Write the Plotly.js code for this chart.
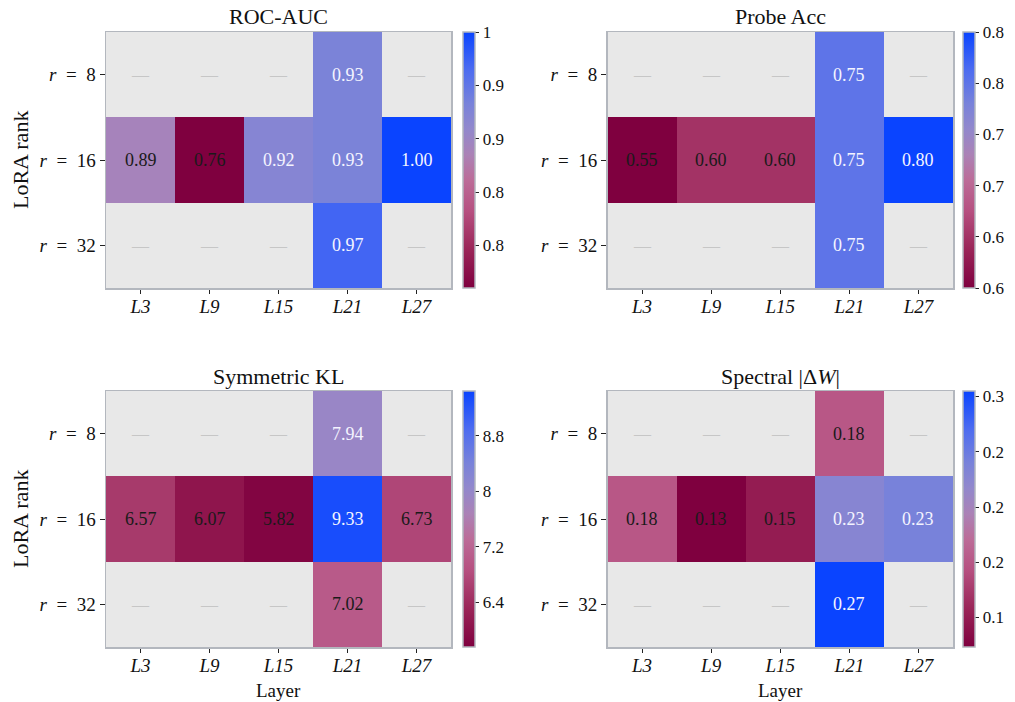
<!DOCTYPE html>
<html>
<head>
<meta charset="utf-8">
<script src="https://cdn.plot.ly/plotly-3.0.1.min.js"></script>
<style>html,body{margin:0;padding:0;background:#fff;}#chart{width:1015px;height:702px;}</style>
</head>
<body>
<div id="chart"></div>
<script>
// ---- data ----
const layers = ['L3', 'L9', 'L15', 'L21', 'L27'];
const layerLabels = ['<i>L3</i>', '<i>L9</i>', '<i>L15</i>', '<i>L21</i>', '<i>L27</i>'];
const ranks = ['r8', 'r16', 'r32'];
const rankLabels = ['<i>r</i>\u2002=\u20028', '<i>r</i>\u2002=\u200216', '<i>r</i>\u2002=\u200232'];

const rocAuc = [
  [null, null, null, 0.93, null],
  [0.89, 0.76, 0.92, 0.93, 1.00],
  [null, null, null, 0.97, null]
];
const probeAcc = [
  [null, null, null, 0.75, null],
  [0.55, 0.60, 0.60, 0.75, 0.80],
  [null, null, null, 0.75, null]
];
const symKL = [
  [null, null, null, 7.94, null],
  [6.57, 6.07, 5.82, 9.33, 6.73],
  [null, null, null, 7.02, null]
];
const spectralDW = [
  [null, null, null, 0.18, null],
  [0.18, 0.134, 0.15, 0.226, 0.234],
  [null, null, null, 0.273, null]
];

const rocTicks = [0.80, 0.85, 0.90, 0.95, 1.00];
const rocTickText = ['0.8', '0.8', '0.9', '0.9', '1'];
const probeTicks = [0.55, 0.60, 0.65, 0.70, 0.75, 0.80];
const probeTickText = ['0.6', '0.6', '0.7', '0.7', '0.8', '0.8'];
const klTicks = [6.4, 7.2, 8.0, 8.8];
const klTickText = ['6.4', '7.2', '8', '8.8'];
const specTicks = [0.15, 0.18, 0.21, 0.24, 0.27];
const specTickText = ['0.1', '0.2', '0.2', '0.2', '0.3'];

const titles = ['ROC-AUC', 'Probe Acc', 'Symmetric KL', 'Spectral |Δ<i>W</i>|'];

// ---- styling ----
const cscale = [
  [0.00, '#7f003f'], [0.15, '#9a2558'], [0.30, '#b65080'], [0.42, '#bc6c98'],
  [0.52, '#ab82b6'], [0.62, '#9288cc'], [0.72, '#7882da'], [0.85, '#4d6cf0'], [1.00, '#0a44ff']
];
const FONT = 'Liberation Serif';
const frame = '#b3b7be';

const panels = [
  {z: rocAuc, zmin: 0.76, zmax: 1.00, tv: rocTicks, tt: rocTickText, dx: [106, 451], dy: [32, 288], cbx: 463},
  {z: probeAcc, zmin: 0.55, zmax: 0.80, tv: probeTicks, tt: probeTickText, dx: [607.5, 953], dy: [32, 288], cbx: 963},
  {z: symKL, zmin: 5.75, zmax: 9.45, tv: klTicks, tt: klTickText, dx: [106, 451], dy: [391, 647], cbx: 463},
  {z: spectralDW, zmin: 0.134, zmax: 0.273, tv: specTicks, tt: specTickText, dx: [607.5, 953], dy: [391, 647], cbx: 963}
];

const W = 1015, H = 702;
const traces = [];
const annotations = [];
const layout = {
  width: W, height: H,
  margin: {l: 0, r: 0, t: 0, b: 0},
  paper_bgcolor: '#ffffff',
  plot_bgcolor: '#e8e8e8',
  font: {family: FONT, size: 19, color: '#111'},
  showlegend: false
};

panels.forEach((p, i) => {
  const n = i + 1;
  const xa = 'xaxis' + (n === 1 ? '' : n);
  const ya = 'yaxis' + (n === 1 ? '' : n);
  const xr = 'x' + (n === 1 ? '' : n);
  const yr = 'y' + (n === 1 ? '' : n);
  const ydom = [1 - p.dy[1] / H, 1 - p.dy[0] / H];
  traces.push({
    type: 'heatmap',
    x: layers, y: ranks, z: p.z,
    xaxis: xr, yaxis: yr,
    zmin: p.zmin, zmax: p.zmax,
    colorscale: cscale,
    hoverongaps: false,
    colorbar: {
      x: p.cbx / W, xanchor: 'left', xref: 'paper',
      y: (ydom[0] + ydom[1]) / 2, yanchor: 'middle', yref: 'paper',
      len: ydom[1] - ydom[0], lenmode: 'fraction',
      thickness: 12, xpad: 0, ypad: 0,
      outlinecolor: frame, outlinewidth: 1.5,
      tickvals: p.tv, ticktext: p.tt,
      ticks: 'outside', ticklen: 4, tickcolor: '#222', tickwidth: 1,
      tickfont: {family: FONT, size: 17, color: '#111'}
    }
  });
  layout[xa] = {
    domain: [p.dx[0] / W, p.dx[1] / W],
    anchor: yr,
    type: 'category',
    tickvals: layers, ticktext: layerLabels,
    ticks: 'outside', ticklen: 4, tickcolor: '#222', tickwidth: 1,
    ticklabelstandoff: -3,
    showline: true, linecolor: frame, linewidth: 1.5, mirror: true,
    showgrid: false, zeroline: false,
    tickfont: {family: FONT, size: 19, color: '#111'}
  };
  layout[ya] = {
    domain: ydom,
    anchor: xr,
    type: 'category',
    autorange: 'reversed',
    tickvals: ranks, ticktext: rankLabels,
    ticks: 'outside', ticklen: 5, tickcolor: '#222', tickwidth: 1,
    showline: true, linecolor: frame, linewidth: 1.5, mirror: true,
    showgrid: false, zeroline: false,
    tickfont: {family: FONT, size: 19, color: '#111'}
  };
  // cell texts
  p.z.forEach((row, r) => {
    row.forEach((v, c) => {
      if (v === null) {
        annotations.push({xref: xr, yref: yr, x: layers[c], y: ranks[r], text: '—', showarrow: false,
          font: {family: FONT, size: 17, color: '#c6c6c6'}});
      } else {
        const t = (v - p.zmin) / (p.zmax - p.zmin);
        annotations.push({xref: xr, yref: yr, x: layers[c], y: ranks[r], text: v.toFixed(2), showarrow: false,
          font: {family: FONT, size: 18, color: t >= 0.56 ? '#f4f4ff' : '#1a1a1a'}});
      }
    });
  });
  // panel title
  annotations.push({xref: 'paper', yref: 'paper', x: (p.dx[0] + p.dx[1]) / 2 / W, y: 1 - (p.dy[0] - 15) / H,
    xanchor: 'center', yanchor: 'middle', text: titles[i], showarrow: false,
    font: {family: FONT, size: 22, color: '#111'}});
  // axis titles
  if (i % 2 === 0) {
    annotations.push({xref: 'paper', yref: 'paper', x: 20 / W, y: (ydom[0] + ydom[1]) / 2,
      xanchor: 'center', yanchor: 'middle', textangle: -90, text: 'LoRA rank', showarrow: false,
      font: {family: FONT, size: 22, color: '#111'}});
  }
  if (i >= 2) {
    annotations.push({xref: 'paper', yref: 'paper', x: (p.dx[0] + p.dx[1]) / 2 / W, y: 1 - 690 / H,
      xanchor: 'center', yanchor: 'middle', text: 'Layer', showarrow: false,
      font: {family: FONT, size: 19, color: '#111'}});
  }
});

layout.annotations = annotations;
Plotly.newPlot('chart', traces, layout, {displayModeBar: false, staticPlot: true});
</script>
</body>
</html>
